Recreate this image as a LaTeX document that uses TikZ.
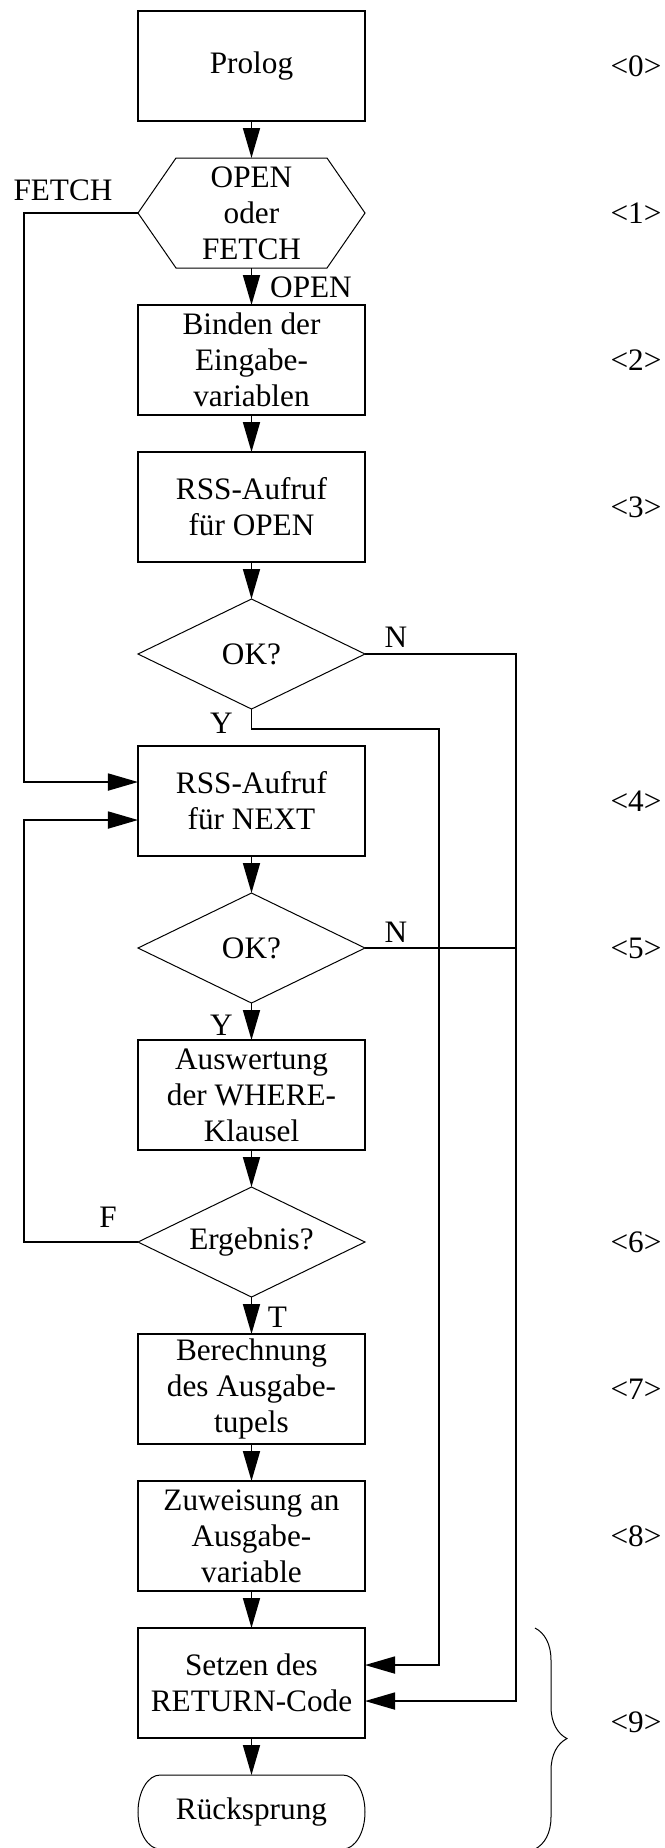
\documentclass[tikz,border=0pt]{standalone}
\usepackage{fontspec}
\setmainfont{Liberation Serif}
\usetikzlibrary{arrows.meta,positioning,shapes.geometric,decorations.pathreplacing}

\begin{document}
\begin{tikzpicture}[
    x=0.4pt, y=-0.4pt,
    node distance=14.8pt,
    font=\fontsize{12.5}{14.4}\selectfont,
    box/.style={draw, line width=0.8pt, align=center, minimum width=90.8pt, minimum height=44pt, inner sep=1pt, outer sep=0pt},
    hexa/.style={align=center, minimum width=90.8pt, minimum height=44pt, inner sep=0pt, outer sep=0pt},
    decision/.style={diamond, draw, line width=0.4pt, aspect=2, minimum width=90.8pt, minimum height=44pt, inner sep=0pt, outer sep=0pt},
    terminal/.style={minimum width=90.8pt, minimum height=29.6pt, outer sep=0pt},
    arrow/.style={-{Triangle[length=12pt,width=6.8pt]}, line width=0.7pt},
    line/.style={line width=0.7pt},
    lbl/.style={inner sep=0pt}
  ]
    \useasboundingbox (0,0) rectangle (665,1848);
    \coordinate (lrail) at (24,0);
    \coordinate (yrail) at (439,0);
    \coordinate (nrail) at (516,0);
    \coordinate (bracecol) at (535,0);
    \coordinate (numcol) at (636,0);

    \node[box] (prolog) at (251.5,66) {Prolog};
    \node[hexa, below=of prolog] (mode) {OPEN\\oder\\FETCH};
    \draw[line width=0.4pt] (mode.west) -- ([xshift=15.2pt]mode.north west) -- ([xshift=-15.2pt]mode.north east)
      -- (mode.east) -- ([xshift=-15.2pt]mode.south east) -- ([xshift=15.2pt]mode.south west) -- cycle;
    \node[box, below=of mode] (bind) {Binden der\\Eingabe-\\variablen};
    \node[box, below=of bind] (open) {RSS-Aufruf\\für OPEN};
    \node[decision, below=of open] (ok1) {OK?};
    \node[box, below=of ok1] (next) {RSS-Aufruf\\für NEXT};
    \node[decision, below=of next] (ok2) {OK?};
    \node[box, below=of ok2] (where) {Auswertung\\der WHERE-\\Klausel};
    \node[decision, below=of where] (result) {Ergebnis?};
    \node[box, below=of result] (tuple) {Berechnung\\des Ausgabe-\\tupels};
    \node[box, below=of tuple] (assign) {Zuweisung an\\Ausgabe-\\variable};
    \node[box, below=of assign] (retcode) {Setzen des\\RETURN-Code};
    \node[terminal, below=of retcode] (return) {Rücksprung};
    \draw[line width=0.4pt] ([xshift=8.8pt]return.north west) -- ([xshift=-8.8pt]return.north east)
      arc[start angle=90, end angle=-90, x radius=8.8pt, y radius=14.8pt]
      -- ([xshift=8.8pt]return.south west)
      arc[start angle=270, end angle=90, x radius=8.8pt, y radius=14.8pt] -- cycle;

    \foreach \a/\b in {prolog/mode, mode/bind, bind/open, open/ok1, next/ok2, ok2/where,
                       where/result, result/tuple, tuple/assign, assign/retcode, retcode/return}
      \draw[arrow] (\a.south) -- (\b.north);

    % branches
    \draw[arrow] (mode.west) -- (mode.west -| lrail) |- ([yshift=7.6pt]next.west);
    \draw[arrow] (result.west) -- (result.west -| lrail) |- ([yshift=-7.6pt]next.west);
    \draw[arrow] (ok1.south) |- ([yshift=-8pt]ok1.south -| yrail) |- ([yshift=7.2pt]retcode.east);
    \draw[arrow] (ok1.east) -- (ok1.east -| nrail) |- ([yshift=-7.2pt]retcode.east);
    \draw[line] (ok2.east) -- (ok2.east -| nrail);

    \node[lbl] (lfetch) at ([xshift=-30pt,yshift=9.2pt]mode.west) {FETCH};
    \node[lbl] (lopen) at ([xshift=23.8pt,yshift=-7.6pt]mode.south) {OPEN};
    \node[lbl] (lno1) at ([xshift=12.4pt,yshift=6.8pt]ok1.east) {N};
    \node[lbl] (lyes1) at ([xshift=-12pt,yshift=-5.6pt]ok1.south) {Y};
    \node[lbl] (lno2) at ([xshift=12.4pt,yshift=6.4pt]ok2.east) {N};
    \node[lbl] (lyes2) at ([xshift=-12pt,yshift=-8.8pt]ok2.south) {Y};
    \node[lbl] (lfalse) at ([xshift=-12pt,yshift=10pt]result.west) {F};
    \node[lbl] (ltrue) at ([xshift=10.4pt,yshift=-8pt]result.south) {T};

    % step numbers
    \foreach \n/\k in {prolog/0, mode/1, bind/2, open/3, next/4, ok2/5, result/6, tuple/7, assign/8}
      \node (num\k) at (numcol |- \n) {<\k>};
    \draw[decorate, decoration={brace, amplitude=12.8pt}, line width=0.4pt]
      (bracecol |- retcode.north) -- (bracecol |- return.south);
    \node (num9) at (636,1722) {<9>};
  \end{tikzpicture}
\end{document}
